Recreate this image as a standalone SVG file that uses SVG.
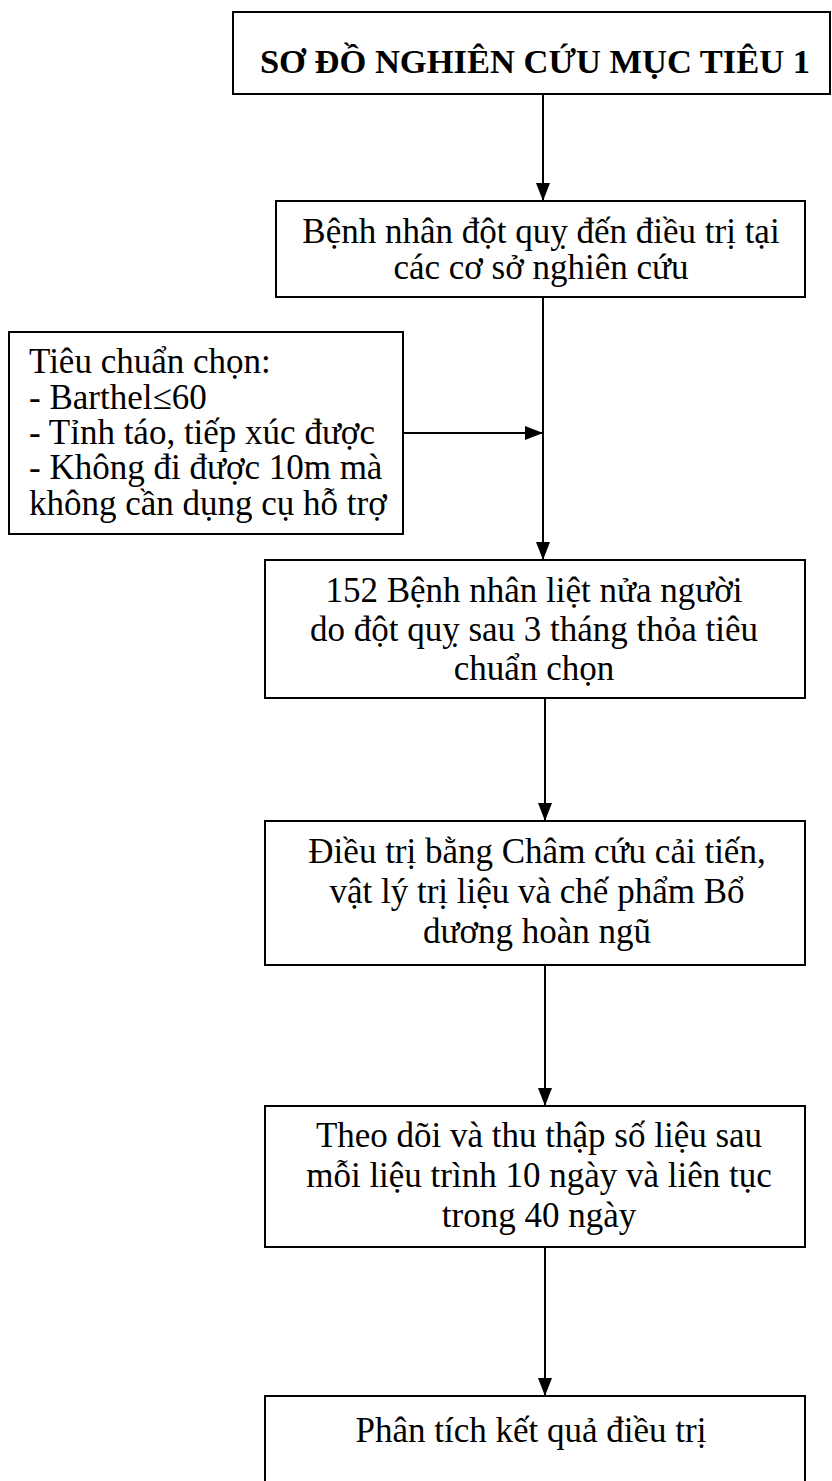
<svg xmlns="http://www.w3.org/2000/svg" width="832" height="1481" viewBox="0 0 832 1481">
  <style>
    .box { fill: #ffffff; stroke: #000000; stroke-width: 2; }
    .txt { font-family: "Liberation Serif", "Times New Roman", serif; font-size: 35px; fill: #000000; }
    .c { text-anchor: middle; }
    .title { font-weight: bold; font-size: 34.5px; }
    .wire { stroke: #000000; stroke-width: 2; fill: none; }
  </style>
  <defs>
    <marker id="arrow" viewBox="0 0 18 14" refX="18" refY="7" markerWidth="18" markerHeight="14" markerUnits="userSpaceOnUse" orient="auto">
      <path d="M0,0 L18,7 L0,14 Z" fill="#000000"/>
    </marker>
  </defs>
  <rect width="832" height="1481" fill="#ffffff"/>

  <g id="connectors">
    <line class="wire" x1="543" y1="94" x2="543" y2="201" marker-end="url(#arrow)"/>
    <line class="wire" x1="543" y1="297" x2="543" y2="560" marker-end="url(#arrow)"/>
    <line class="wire" x1="403" y1="433" x2="543" y2="433" marker-end="url(#arrow)"/>
    <line class="wire" x1="545" y1="698" x2="545" y2="821" marker-end="url(#arrow)"/>
    <line class="wire" x1="545" y1="965" x2="545" y2="1106" marker-end="url(#arrow)"/>
    <line class="wire" x1="545" y1="1247" x2="545" y2="1396" marker-end="url(#arrow)"/>
  </g>

  <g id="title">
    <rect class="box" x="233" y="12" width="597" height="82"/>
    <text class="txt c title" x="535" y="73">SƠ ĐỒ NGHIÊN CỨU MỤC TIÊU 1</text>
  </g>

  <g id="patients">
    <rect class="box" x="276" y="201" width="529" height="96"/>
    <text class="txt c" x="541" y="243">Bệnh nhân đột quỵ đến điều trị tại</text>
    <text class="txt c" x="541" y="279">các cơ sở nghiên cứu</text>
  </g>

  <g id="criteria">
    <rect class="box" x="9" y="332" width="394" height="202"/>
    <text class="txt" x="29" y="373">Tiêu chuẩn chọn:</text>
    <text class="txt" x="29" y="409">- Barthel≤60</text>
    <text class="txt" x="29" y="444">- Tỉnh táo, tiếp xúc được</text>
    <text class="txt" x="29" y="479">- Không đi được 10m mà</text>
    <text class="txt" x="29" y="515">không cần dụng cụ hỗ trợ</text>
  </g>

  <g id="selected">
    <rect class="box" x="265" y="560" width="540" height="138"/>
    <text class="txt c" x="534" y="602">152 Bệnh nhân liệt nửa người</text>
    <text class="txt c" x="534" y="641">do đột quỵ sau 3 tháng thỏa tiêu</text>
    <text class="txt c" x="534" y="680">chuẩn chọn</text>
  </g>

  <g id="treatment">
    <rect class="box" x="265" y="821" width="540" height="144"/>
    <text class="txt c" x="537" y="863">Điều trị bằng Châm cứu cải tiến,</text>
    <text class="txt c" x="537" y="903">vật lý trị liệu và chế phẩm Bổ</text>
    <text class="txt c" x="537" y="943">dương hoàn ngũ</text>
  </g>

  <g id="followup">
    <rect class="box" x="265" y="1106" width="540" height="141"/>
    <text class="txt c" x="539" y="1147">Theo dõi và thu thập số liệu sau</text>
    <text class="txt c" x="539" y="1187">mỗi liệu trình 10 ngày và liên tục</text>
    <text class="txt c" x="539" y="1227">trong 40 ngày</text>
  </g>

  <g id="analysis">
    <rect class="box" x="265" y="1396" width="540" height="100"/>
    <text class="txt c" x="531" y="1442">Phân tích kết quả điều trị</text>
  </g>
</svg>
